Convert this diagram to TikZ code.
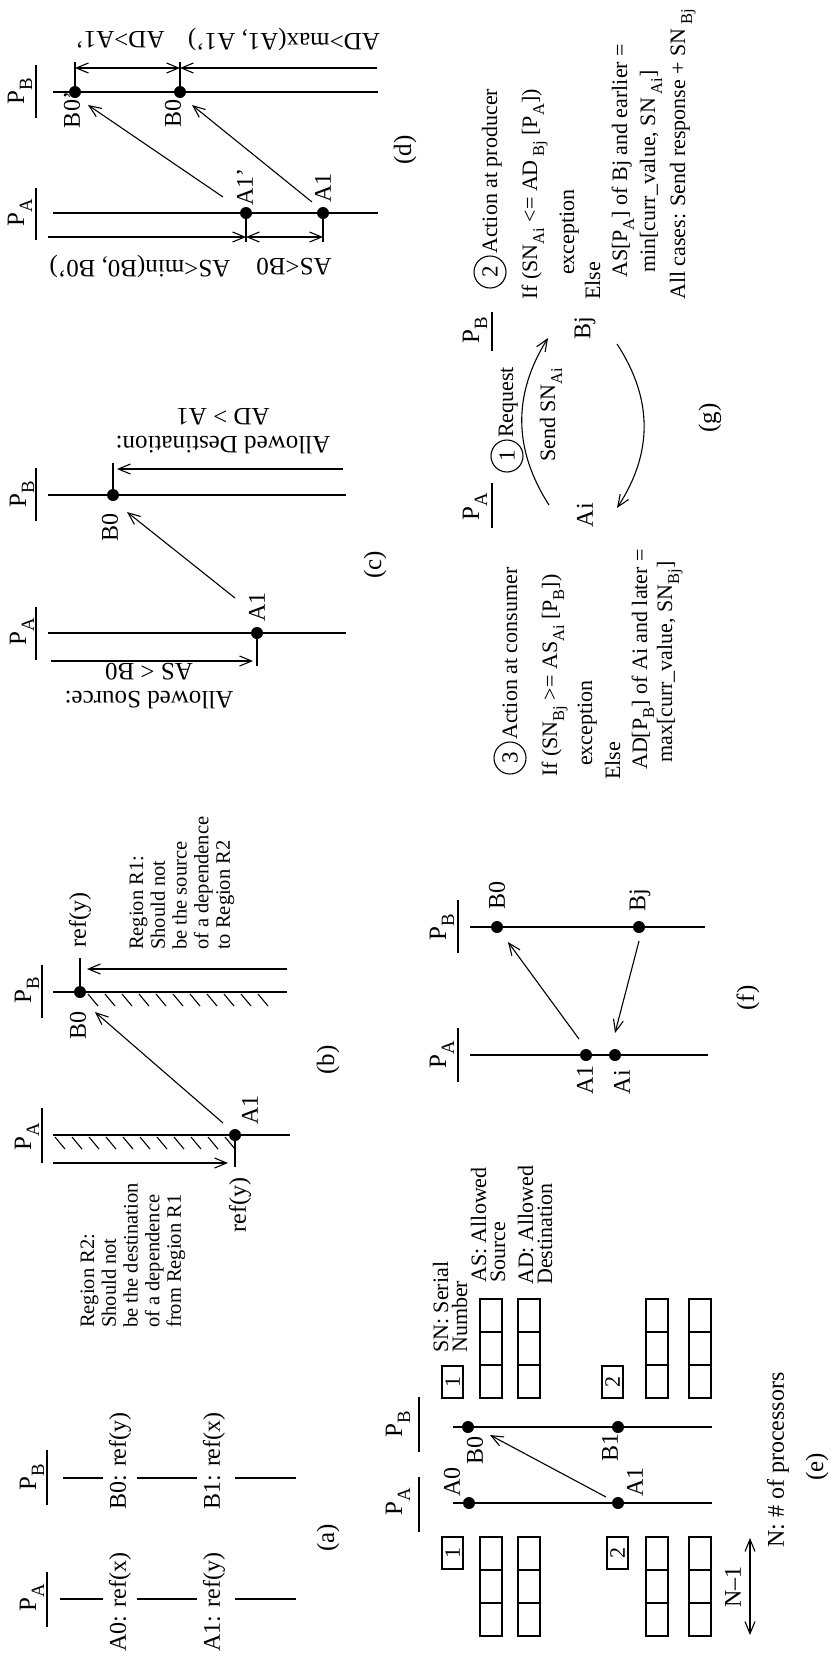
\documentclass[tikz,border=0pt]{standalone}
\usepackage{fontspec}
\usepackage{graphicx}
\setmainfont{Liberation Serif}
\usetikzlibrary{arrows.meta}
\newcommand\sbs[1]{\raisebox{-0.32em}{\scalebox{0.75}{#1}}}
\begin{document}
\begin{tikzpicture}[x=1pt,y=-1pt,
  >={Straight Barb[length=12pt,width=10pt]},
  ln/.style={line width=1.1pt},
  arr/.style={ln,->},
  darr/.style={ln,<->},
  dot/.style={circle,fill=black,inner sep=0pt,minimum size=12pt},
  lbl/.style={rotate=90,inner sep=0pt,font=\fontsize{24}{28}\selectfont},
  plab/.style={rotate=90,inner sep=0pt,font=\fontsize{25}{28}\selectfont},
  pcap/.style={rotate=90,inner sep=0pt,font=\fontsize{25}{28}\selectfont},
  upd/.style={rotate=180,inner sep=0pt,align=center,font=\fontsize{25}{28}\selectfont},
  blk/.style={rotate=90,inner sep=0pt,anchor=west,align=left,font=\fontsize{20.5}{21.7}\selectfont},
  eblk/.style={rotate=90,inner sep=0pt,anchor=west,align=left,font=\fontsize{22}{19}\selectfont},
  txt/.style={rotate=90,inner sep=0pt,anchor=base west,font=\fontsize{22}{24}\selectfont},
  numbox/.style={draw,ln,rotate=90,minimum width=32pt,minimum height=21pt,inner sep=0pt,font=\fontsize{22}{24}\selectfont},
  numcirc/.style={circle,draw,ln,minimum size=32pt,inner sep=0pt,rotate=90,font=\fontsize{23}{24}\selectfont}
]
\fill[white] (0,0) rectangle (833,1663);
\useasboundingbox (0,0) rectangle (833,1663);

% ================= (a)
\node[plab] (aPA) at (32,1598) {P\sbs{A}};
\draw[ln] (47,1572) -- (47,1627);
\node[plab] (aPB) at (32,1477) {P\sbs{B}};
\draw[ln] (47,1450) -- (47,1505);
\node[lbl] (aA0) at (120,1602) {A0: ref(x)};
\node[lbl] (aA1) at (214,1602) {A1: ref(y)};
\node[lbl] (aB0) at (120,1461) {B0: ref(y)};
\node[lbl] (aB1) at (214,1461) {B1: ref(x)};
\draw[ln] (60,1599) -- (103,1599) (137,1599) -- (197,1599) (235,1599) -- (296,1599);
\draw[ln] (63,1478) -- (103,1478) (137,1478) -- (197,1478) (235,1478) -- (296,1478);
\node[pcap] (capa) at (328,1538) {(a)};

% ================= (b)
\node[plab] (bPA) at (27,1137) {P\sbs{A}};
\draw[ln] (42,1108) -- (42,1163);
\node[plab] (bPB) at (27,990) {P\sbs{B}};
\draw[ln] (42,965) -- (42,1018);
\draw[ln] (53,1135) -- (290,1135);
\draw[ln] (53,992) -- (287,992);
\foreach \x in {55,72,...,225} \draw[ln] (\x,1137) -- ++(10,12);
\foreach \x in {88,105,...,260} \draw[ln] (\x,994) -- ++(10,12);
\node[dot] (bA1) at (235,1135) {};
\node[dot] (bB0) at (80,992) {};
\coordinate (bA1t) at (235,1167);
\coordinate (bB0t) at (80,958);
\draw[ln] (bA1) -- (bA1t);
\draw[ln] (bB0) -- (bB0t);
\coordinate (bR2s) at (53,1163);
\coordinate (bR2e) at (228,1163);
\draw[arr] (bR2s) -- (bR2e);
\coordinate (bR1s) at (287,969);
\coordinate (bR1e) at (87,969);
\draw[arr] (bR1s) -- (bR1e);
\node[lbl] (bref1) at (240,1205) {ref(y)};
\node[lbl] (bref0) at (80,920) {ref(y)};
\node[lbl] (bA1l) at (250,1110) {A1};
\node[lbl] (bB0l) at (78,1025) {B0};
\coordinate (bdep1) at (223,1123);
\coordinate (bdep0) at (95,1012);
\draw[arr] (bdep1) -- (bdep0);
\node[blk] (r2) at (133,1328) {Region R2:\\Should not\\be the destination\\of a dependence\\from Region R1};
\node[blk] (r1) at (182,950) {Region R1:\\Should not\\be the source\\of a dependence\\to Region R2};
\node[pcap] (capb) at (328,1060) {(b)};

% ================= (c)
\node[plab] (cPA) at (22,632) {P\sbs{A}};
\draw[ln] (36,607) -- (36,660);
\node[plab] (cPB) at (22,494) {P\sbs{B}};
\draw[ln] (36,468) -- (36,521);
\draw[ln] (48,633) -- (346,633);
\draw[ln] (48,495) -- (346,495);
\node[dot] (cA1) at (257,633) {};
\node[dot] (cB0) at (113,495) {};
\node[lbl] (cA1l) at (257,607) {A1};
\node[lbl] (cB0l) at (110,527) {B0};
\coordinate (cd1) at (235,598);
\coordinate (cd0) at (127,512);
\draw[arr] (cd1) -- (cd0);
\coordinate (cA1t) at (257,666);
\coordinate (cB0t) at (113,463);
\draw[ln] (cA1) -- (cA1t);
\draw[ln] (cB0) -- (cB0t);
\coordinate (cASs) at (51,661);
\coordinate (cASe) at (253,661);
\draw[arr] (cASs) -- (cASe);
\coordinate (cADs) at (343,469);
\coordinate (cADe) at (117,469);
\draw[arr] (cADs) -- (cADe);
\node[upd] (cAS) at (149,686) {Allowed Source:\\AS < B0};
\node[upd] (cAD) at (223,431) {Allowed Destination:\\AD > A1};
\node[pcap] (capc) at (375,565) {(c)};

% ================= (d)
\node[plab] (dPA) at (20,213) {P\sbs{A}};
\draw[ln] (36,188) -- (36,240);
\node[plab] (dPB) at (20,91) {P\sbs{B}};
\draw[ln] (36,65) -- (36,118);
\draw[ln] (53,213) -- (378,213);
\draw[ln] (53,92) -- (378,92);
\node[dot] (dB0p) at (75,92) {};
\node[dot] (dB0) at (180,92) {};
\node[dot] (dA1p) at (246,213) {};
\node[dot] (dA1) at (323,213) {};
\coordinate (dB0pt) at (75,62);
\coordinate (dB0t) at (180,62);
\coordinate (dA1pt) at (246,242);
\coordinate (dA1t) at (323,242);
\draw[ln] (dB0p) -- (dB0pt);
\draw[ln] (dB0) -- (dB0t);
\draw[ln] (dA1p) -- (dA1pt);
\draw[ln] (dA1) -- (dA1t);
\coordinate (dad1) at (75,68);
\coordinate (dad2) at (180,68);
\coordinate (dad3) at (377,68);
\draw[darr] (dad1) -- (dad2);
\draw[arr] (dad3) -- (dad2);
\coordinate (das0) at (48,237);
\coordinate (das1) at (246,237);
\coordinate (das2) at (323,237);
\draw[arr] (das0) -- (das1);
\draw[darr] (das1) -- (das2);
\node[upd] (dl1) at (120,40) {AD>A1’};
\node[upd] (dl2) at (284,40) {AD>max(A1, A1’)};
\node[upd] (dl3) at (140,267) {AS<min(B0, B0’)};
\node[upd] (dl4) at (294,267) {AS<B0};
\coordinate (dx1) at (223,197);
\coordinate (dx1e) at (88,105);
\coordinate (dx2) at (312,202);
\coordinate (dx2e) at (192,105);
\draw[arr] (dx1) -- (dx1e);
\draw[arr] (dx2) -- (dx2e);
\node[lbl] (dB0pl) at (72,110) {B0’};
\node[lbl] (dB0l) at (173,113) {B0};
\node[lbl] (dA1pl) at (245,187) {A1’};
\node[lbl] (dA1l) at (323,188) {A1};
\node[pcap] (capd) at (405,150) {(d)};

% ================= (e)
\node[plab] (ePA) at (398,1502) {P\sbs{A}};
\draw[ln] (419,1477) -- (419,1532);
\node[plab] (ePB) at (398,1424) {P\sbs{B}};
\draw[ln] (419,1397) -- (419,1452);
\draw[ln] (453,1503) -- (712,1503);
\draw[ln] (453,1427) -- (712,1427);
\node[dot] (eA0) at (469,1503) {};
\node[dot] (eA1) at (618,1503) {};
\node[dot] (eB0) at (468,1427) {};
\node[dot] (eB1) at (618,1427) {};
\node[lbl] (eA0l) at (452,1482) {A0};
\node[lbl] (eB0l) at (475,1450) {B0};
\node[lbl] (eA1l) at (635,1482) {A1};
\node[lbl] (eB1l) at (610,1447) {B1};
\coordinate (ed1) at (606,1497);
\coordinate (ed0) at (490,1435);
\draw[arr] (ed1) -- (ed0);
\node[numbox] (eSNA1) at (452.5,1553) {1};
\node[numbox] (eSNA2) at (617.5,1553) {2};
\node[numbox] (eSNB1) at (452.5,1382) {1};
\node[numbox] (eSNB2) at (612.5,1382) {2};
\foreach \x in {480,518,646,689} {
  \draw[ln] (\x,1537) rectangle ++(22,99);
  \draw[ln] (\x,1570) -- ++(22,0) (\x,1603) -- ++(22,0);
  \draw[ln] (\x,1299) rectangle ++(22,99);
  \draw[ln] (\x,1332) -- ++(22,0) (\x,1365) -- ++(22,0);
}
\node[eblk] (eSN) at (450,1353) {SN: Serial\\Number};
\node[eblk] (eAS) at (488,1283) {AS: Allowed\\Source};
\node[eblk] (eAD) at (535,1285) {AD: Allowed\\Destination};
\coordinate (eN1) at (750,1538);
\coordinate (eN2) at (750,1635);
\draw[darr] (eN1) -- (eN2);
\node[lbl] (eNl) at (733,1587) {N–1};
\node[lbl] (eNp) at (778,1460) {N: \# of processors};
\node[pcap] (cape) at (817,1467) {(e)};

% ================= (f)
\node[plab] (fPA) at (442,1055) {P\sbs{A}};
\draw[ln] (458,1028) -- (458,1082);
\node[plab] (fPB) at (442,927) {P\sbs{B}};
\draw[ln] (458,900) -- (458,953);
\draw[ln] (470,1055) -- (708,1055);
\draw[ln] (470,927) -- (705,927);
\node[dot] (fA1) at (586,1055) {};
\node[dot] (fAi) at (615,1055) {};
\node[dot] (fB0) at (497,927) {};
\node[dot] (fBj) at (639,927) {};
\node[lbl] (fB0l) at (497,895) {B0};
\node[lbl] (fBjl) at (640,900) {Bj};
\node[lbl] (fA1l) at (585,1080) {A1};
\node[lbl] (fAil) at (622,1082) {Ai};
\coordinate (fd1) at (579,1039);
\coordinate (fd0) at (508,942);
\draw[arr] (fd1) -- (fd0);
\coordinate (fr1) at (639,941);
\coordinate (fr0) at (615,1033);
\draw[arr] (fr1) -- (fr0);
\node[pcap] (capf) at (748,998) {(f)};

% ================= (g)
\node[plab] (gPA) at (475,507) {P\sbs{A}};
\draw[ln] (492,483) -- (492,528);
\node[plab] (gPB) at (475,330) {P\sbs{B}};
\draw[ln] (492,312) -- (492,351);
\node[lbl] (gAi) at (585,515) {Ai};
\node[lbl] (gBj) at (585,328) {Bj};
\coordinate (gu0) at (549,505);
\coordinate (gu1) at (548,338);
\draw[arr] (gu0) .. controls (513,449) and (513,394) .. (gu1);
\coordinate (gl0) at (617,344);
\coordinate (gl1) at (617,508);
\draw[arr] (gl0) .. controls (653,399) and (653,453) .. (gl1);
\node[numcirc] (g1) at (507,456) {1};
\node[txt] (greq) at (513,438) {Request};
\node[txt] (gsend) at (555,462) {Send SN\sbs{Ai}};
\node[pcap] (capg) at (710,418) {(g)};
% consumer
\node[numcirc] (g3) at (510,758) {3};
\node[txt] (gc1) at (517,740) {Action at consumer};
\node[txt] (gc2) at (557,777) {If (SN\sbs{Bj} >= AS\sbs{Ai} [P\sbs{B}])};
\node[txt] (gc3) at (592,766) {exception};
\node[txt] (gc4) at (620,780) {Else};
\node[txt] (gc5) at (647,770) {AD[P\sbs{B}] of Ai and later =};
\node[txt] (gc6) at (672,763) {max[curr\_value, SN\sbs{Bj}]};
% producer
\node[numcirc] (g2) at (490,272) {2};
\node[txt] (gp1) at (497,254) {Action at producer};
\node[txt] (gp2) at (537,300) {If (SN\sbs{Ai} <= AD\,\sbs{Bj} [P\sbs{A}])};
\node[txt] (gp3) at (574,275) {exception};
\node[txt] (gp4) at (600,300) {Else};
\node[txt] (gp5) at (627,278) {AS[P\sbs{A}] of Bj and earlier =};
\node[txt] (gp6) at (655,273) {min[curr\_value, SN\,\sbs{Ai}]};
\node[txt] (gp7) at (685,300) {All cases: Send response + SN\,\sbs{Bj}};
\end{tikzpicture}
\end{document}
